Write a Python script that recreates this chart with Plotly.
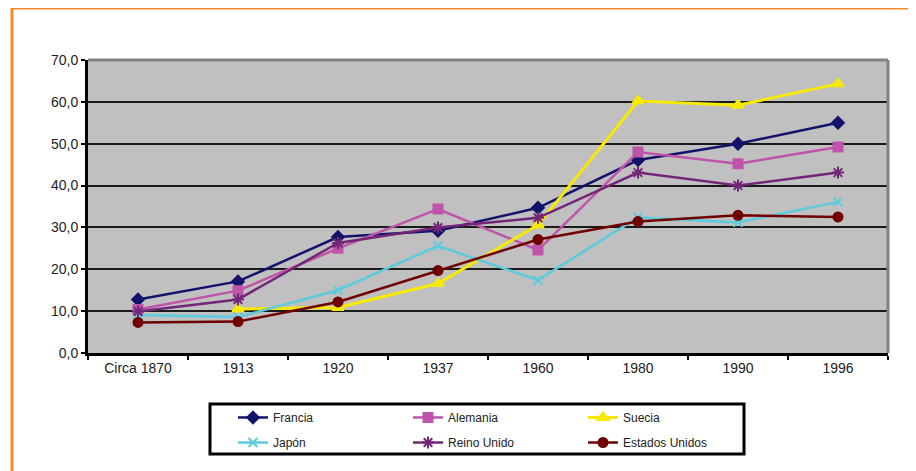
import plotly.graph_objects as go

categories = ["Circa 1870", "1913", "1920", "1937", "1960", "1980", "1990", "1996"]
francia = [12.8, 17.1, 27.7, 29.2, 34.7, 46.1, 50.0, 55.0]
alemania = [10.4, 14.9, 25.0, 34.4, 24.6, 48.0, 45.2, 49.2]
suecia = [None, 10.5, 10.9, 16.6, 30.6, 60.2, 59.2, 64.3]
japon = [9.1, 8.6, 15.0, 25.6, 17.4, 32.4, 31.2, 36.1]
reino_unido = [9.9, 12.8, 26.3, 30.0, 32.3, 43.1, 40.0, 43.1]
estados_unidos = [7.3, 7.5, 12.2, 19.7, 27.1, 31.4, 32.9, 32.5]

series = [
    ("Francia", francia, "#13136b", "diamond", 9, 2.5, "legend"),
    ("Alemania", alemania, "#bf55aa", "square", 9, 2.5, "legend"),
    ("Suecia", suecia, "#f5ea00", "triangle-up", 10, 3, "legend"),
    ("Japón", japon, "#5ccbdc", "x-thin-open", 9, 2.5, "legend2"),
    ("Reino Unido", reino_unido, "#732678", "asterisk-open", 10, 2.5, "legend2"),
    ("Estados Unidos", estados_unidos, "#700000", "circle", 9, 2.5, "legend2"),
]

fig = go.Figure()
for name, vals, color, sym, size, lw, lg in series:
    fig.add_trace(go.Scatter(
        x=categories, y=vals, name=name, mode="lines+markers",
        line=dict(color=color, width=lw),
        marker=dict(symbol=sym, size=size, color=color,
                    line=dict(color=color, width=2)),
        legend=lg,
    ))

legend_common = dict(
    orientation="h", xanchor="left", yanchor="top",
    borderwidth=0, bgcolor="rgba(0,0,0,0)",
    font=dict(size=12, color="#222"),
    entrywidth=130, entrywidthmode="pixels",
)

# page has an 8px body margin, so margins are offset by 8px to place the plot
fig.update_layout(
    width=916, height=471,
    paper_bgcolor="white", plot_bgcolor="#c0c0c0",
    margin=dict(l=80, r=36, t=52, b=126),
    separators=",.",
    font=dict(family="Liberation Sans, Arial, sans-serif", size=14, color="#222"),
    showlegend=True,
    legend=dict(x=0.18125, y=-0.1705, **legend_common),
    legend2=dict(x=0.18125, y=-0.256, **legend_common),
    xaxis=dict(
        type="category", range=[-0.5, 7.5], showgrid=False, automargin=False,
        showline=True, linecolor="black", linewidth=3,
        ticks="outside", tickson="boundaries", ticklen=4, tickwidth=2, tickcolor="black",
    ),
    yaxis=dict(
        range=[0, 70], dtick=10, tickformat=".1f", automargin=False,
        showgrid=True, gridcolor="#1a1a1a", gridwidth=2, zeroline=False,
        showline=True, linecolor="black", linewidth=3,
        ticks="outside", ticklen=4, tickwidth=2, tickcolor="black",
    ),
    shapes=[
        dict(type="line", xref="paper", yref="paper", x0=0, x1=1, y0=1, y1=1,
             line=dict(color="#808080", width=3)),
        dict(type="line", xref="paper", yref="paper", x0=1, x1=1, y0=0, y1=1,
             line=dict(color="#808080", width=3)),
        dict(type="rect", xref="paper", yref="paper", x0=-0.095, x1=1.1, y0=-0.6, y1=1.1775,
             line=dict(color="#f58a2a", width=3), layer="below"),
        dict(type="rect", xref="paper", yref="paper", x0=0.1525, x1=0.82, y0=-0.3447, y1=-0.174,
             line=dict(color="black", width=3), fillcolor="white", layer="below"),
    ],
)

fig.write_html("out.html")
